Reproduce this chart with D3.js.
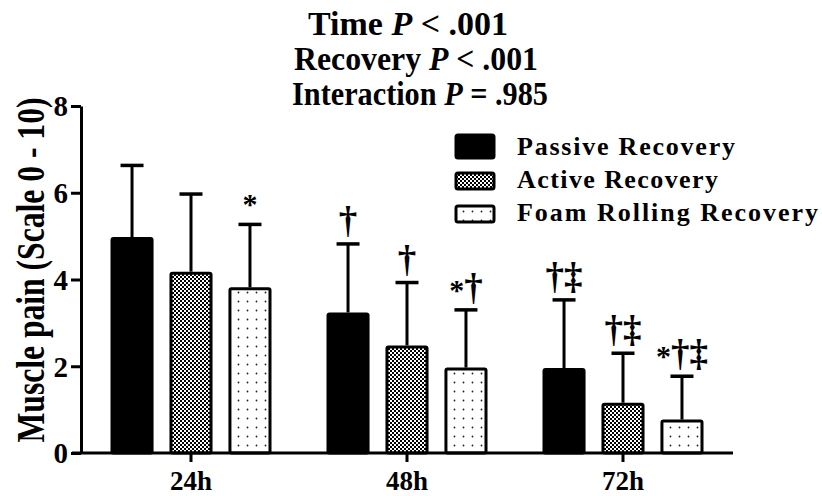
<!DOCTYPE html>
<html>
<head>
<meta charset="utf-8">
<script src="https://cdn.jsdelivr.net/npm/d3@7"></script>
<style>
body{margin:0;background:#fff;}
text{font-family:"Liberation Serif","Times New Roman",serif;font-weight:bold;fill:#000;}
</style>
</head>
<body>
<svg id="chart" width="822" height="496"></svg>
<script>
var times = ["24h", "48h", "72h"];
var series = ["Passive Recovery", "Active Recovery", "Foam Rolling Recovery"];
var means = [
	[4.98, 3.24, 1.96],
	[4.18, 2.48, 1.16],
	[3.82, 1.97, 0.77]
];
var sds = [
	[1.65, 1.58, 1.57],
	[1.79, 1.45, 1.14],
	[1.45, 1.33, 1.0]
];
var marks = [
	["", "†", "†‡"],
	["", "†", "†‡"],
	["*", "*†", "*†‡"]
];
var yTicks = [0, 2, 4, 6, 8];
var titleLines = [
	["Time  ", "< .001"],
	["Recovery ", "< .001"],
	["Interaction ", "= .985"]
];

var svg = d3.select("#chart");

// patterns
var defs = svg.append("defs");
var chk = defs.append("pattern").attr("id", "checker")
	.attr("patternUnits", "userSpaceOnUse").attr("width", 4).attr("height", 4);
chk.append("rect").attr("width", 4).attr("height", 4).attr("fill", "#fff");
chk.append("rect").attr("width", 2).attr("height", 2).attr("fill", "#000");
chk.append("rect").attr("x", 2).attr("y", 2).attr("width", 2).attr("height", 2).attr("fill", "#000");

var dots = defs.append("pattern").attr("id", "dots")
	.attr("patternUnits", "userSpaceOnUse").attr("width", 9).attr("height", 9);
dots.append("rect").attr("width", 9).attr("height", 9).attr("fill", "#fff");
dots.append("circle").attr("cx", 4.5).attr("cy", 4.5).attr("r", 0.9).attr("fill", "#222");

var fills = ["#000", "url(#checker)", "url(#dots)"];

var y = d3.scaleLinear().domain([0, 8]).range([453, 106]);
var x0 = d3.scaleBand().domain(times).range([83, 731]).padding(0);
var x1 = d3.scaleBand().domain(series).range([x0.bandwidth() / 2 - 80.5, x0.bandwidth() / 2 + 80.5]).paddingInner(0.27);

// flatten
var bars = [];
series.forEach(function(s, si){
	times.forEach(function(t, ti){
		bars.push({s: s, si: si, t: t, m: means[si][ti], sd: sds[si][ti], mark: marks[si][ti]});
	});
});

function cx(d){ return x0(d.t) + x1(d.s) + x1.bandwidth() / 2; }

var g = svg.append("g");

// error bars
var eb = g.selectAll(".err").data(bars).enter().append("g").attr("class", "err");
eb.append("line")
	.attr("x1", cx).attr("x2", cx)
	.attr("y1", function(d){ return y(d.m); })
	.attr("y2", function(d){ return y(d.m + d.sd); })
	.attr("stroke", "#000").attr("stroke-width", 3);
eb.append("line")
	.attr("x1", function(d){ return cx(d) - 11.5; })
	.attr("x2", function(d){ return cx(d) + 11.5; })
	.attr("y1", function(d){ return y(d.m + d.sd); })
	.attr("y2", function(d){ return y(d.m + d.sd); })
	.attr("stroke", "#000").attr("stroke-width", 3.5);

// bars
g.selectAll(".bar").data(bars).enter().append("rect")
	.attr("class", "bar")
	.attr("x", function(d){ return x0(d.t) + x1(d.s) + 1.5; })
	.attr("width", x1.bandwidth() - 3)
	.attr("y", function(d){ return y(d.m) + 1.5; })
	.attr("height", function(d){ return y(0) - y(d.m) - 1.5; })
	.attr("rx", 1.5)
	.attr("fill", function(d){ return fills[d.si]; })
	.attr("stroke", "#000").attr("stroke-width", 3);

// significance marks
var mk = g.selectAll(".mark").data(bars).enter().append("text")
	.attr("class", "mark")
	.attr("x", cx)
	.attr("y", function(d){ return y(d.m + d.sd) - 11; })
	.attr("text-anchor", "middle")
	.attr("font-size", 37);
mk.each(function(d){
	var t = d3.select(this);
	d.mark.split("").forEach(function(c){
		if (c === "*") {
			t.append("tspan").attr("font-size", 30).attr("dy", 1).text(c);
		} else {
			t.append("tspan").text(c);
		}
	});
});

// y axis
var yAxis = d3.axisLeft(y).tickValues(yTicks).tickSize(10).tickSizeOuter(0).tickFormat(d3.format("d"));
var ya = svg.append("g").attr("transform", "translate(81,0)").call(yAxis);
ya.select(".domain").attr("stroke-width", 3);
ya.selectAll(".tick line").attr("stroke-width", 3);
ya.selectAll(".tick text").attr("font-size", 29).attr("font-family", "Liberation Serif").attr("font-weight", "bold").attr("x", -13).attr("dy", "0.34em");

// x axis
var xAxis = d3.axisBottom(x0).tickSize(9).tickSizeOuter(0);
var xa = svg.append("g").attr("transform", "translate(0,453)").call(xAxis);
xa.select(".domain").remove();
xa.append("line").attr("x1", 72).attr("x2", 733).attr("stroke", "#000").attr("stroke-width", 3);
xa.selectAll(".tick line").attr("stroke-width", 3);
xa.selectAll(".tick text").attr("font-size", 27).attr("font-family", "Liberation Serif").attr("font-weight", "bold").attr("y", 37).attr("dy", 0);

// y label
svg.append("text")
	.attr("transform", "translate(44,270) rotate(-90)")
	.attr("text-anchor", "middle")
	.attr("font-size", 40)
	.attr("textLength", 345)
	.attr("lengthAdjust", "spacingAndGlyphs")
	.text("Muscle pain (Scale 0 - 10)");

// title, squeezed horizontally to the widths seen in the figure
var titleY = [35, 70, 105];
var titleX = [408, 416, 420];
var titleW = [200, 244, 256];
titleLines.forEach(function(tl, i){
	var t = svg.append("text").attr("text-anchor", "middle").attr("font-size", 34);
	t.append("tspan").text(tl[0]);
	t.append("tspan").attr("font-style", "italic").text("P");
	t.append("tspan").text(" " + tl[1]);
	var w = t.node().getComputedTextLength();
	t.attr("transform", "translate(" + titleX[i] + "," + titleY[i] + ") scale(" + (titleW[i] / w) + ",1)");
});

// legend
var legBox = [[135, 23], [173, 16], [206, 16]];
var legBase = [155, 188, 221];
var legW = [218, 201, 301];
var leg = svg.append("g").selectAll("g").data(series).enter().append("g");
leg.append("rect")
	.attr("x", 456).attr("width", 38)
	.attr("y", function(d, i){ return legBox[i][0]; })
	.attr("height", function(d, i){ return legBox[i][1]; })
	.attr("rx", 2)
	.attr("fill", function(d, i){ return fills[i]; })
	.attr("stroke", "#000").attr("stroke-width", 3);
leg.append("text")
	.attr("x", 517)
	.attr("y", function(d, i){ return legBase[i]; })
	.attr("font-size", 26)
	.attr("textLength", function(d, i){ return legW[i]; })
	.attr("lengthAdjust", "spacing")
	.text(function(d){ return d; });
</script>
</body>
</html>
